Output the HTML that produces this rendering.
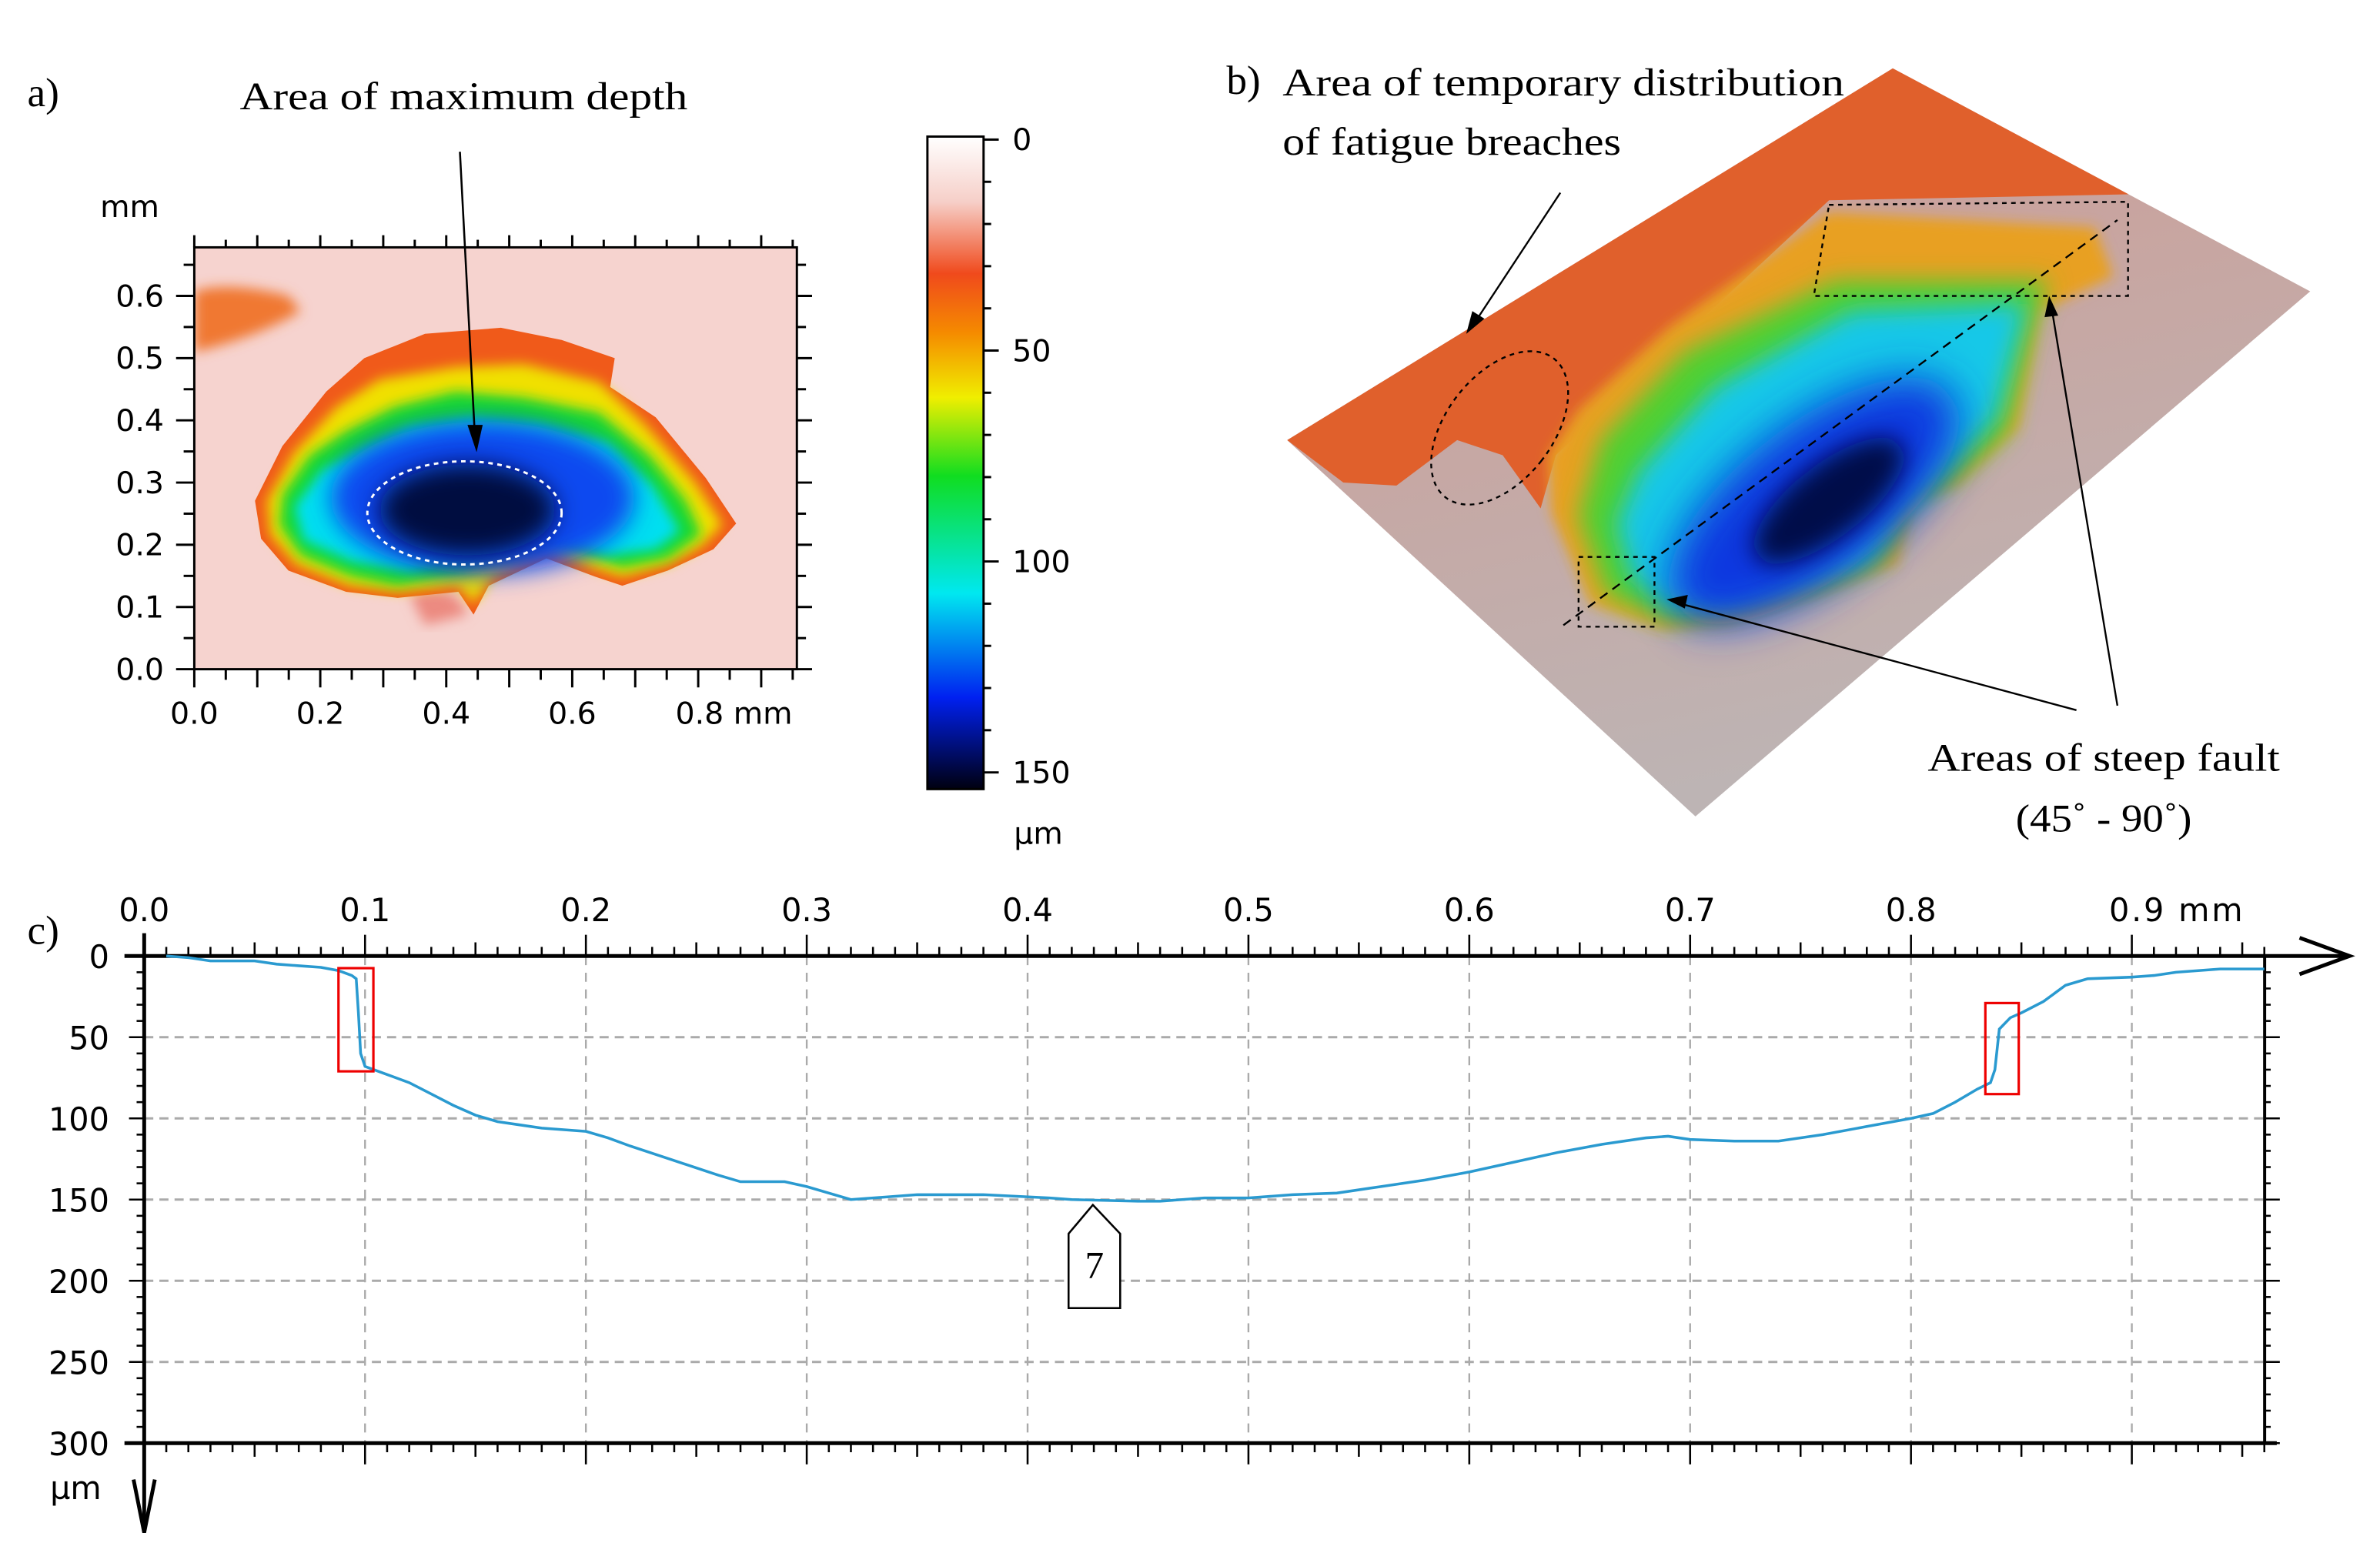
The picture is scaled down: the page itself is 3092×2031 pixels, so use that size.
<!DOCTYPE html>
<html><head><meta charset="utf-8"><style>
html,body{margin:0;padding:0;background:#fff;}
svg{display:block;}
.serif{font-family:"Liberation Serif",serif;}
.sans{font-family:"DejaVu Sans","Liberation Sans",sans-serif;}
</style></head><body>
<svg id="root" width="3092" height="2031" viewBox="0 0 1568 1030" preserveAspectRatio="none" xmlns="http://www.w3.org/2000/svg">
<defs>
<filter id="blur4" x="-20%" y="-20%" width="140%" height="140%"><feGaussianBlur stdDeviation="4"/></filter>
<filter id="blur8" x="-30%" y="-30%" width="160%" height="160%"><feGaussianBlur stdDeviation="8"/></filter>
<filter id="blur14" x="-40%" y="-40%" width="180%" height="180%"><feGaussianBlur stdDeviation="14"/></filter>
<linearGradient id="cbar" x1="0" y1="0" x2="0" y2="1">
<stop offset="0" stop-color="#ffffff"/><stop offset="0.1" stop-color="#f6cfc8"/>
<stop offset="0.21" stop-color="#f04a1c"/><stop offset="0.3" stop-color="#f58a00"/>
<stop offset="0.4" stop-color="#f0ee00"/><stop offset="0.52" stop-color="#10dd20"/>
<stop offset="0.7" stop-color="#00e8f0"/><stop offset="0.86" stop-color="#0020f0"/>
<stop offset="1" stop-color="#000010"/>
</linearGradient>
<linearGradient id="plateg" x1="0" y1="0" x2="0.3" y2="1">
<stop offset="0" stop-color="#d09a92"/><stop offset="1" stop-color="#bdb4b4"/>
</linearGradient>
<clipPath id="mapclip"><rect x="128" y="163" width="397" height="278"/></clipPath>
<clipPath id="plateclip"><polygon points="848,290 1247,45 1522,192 1117,538"/></clipPath>
</defs>

<!-- Panel a -->
<text class="serif" x="18" y="70" font-size="27">a)</text>
<text class="serif" x="158" y="72" font-size="26" textLength="295" lengthAdjust="spacingAndGlyphs">Area of maximum depth</text>
<g clip-path="url(#mapclip)">
<rect x="128" y="163" width="397" height="278" fill="#f6d3cf"/>
<path d="M128,192 Q150,185 190,195 L198,205 Q170,222 128,232 Z" fill="#f07830" filter="url(#blur4)"/>
<path d="M270,392 Q300,382 308,405 L280,412 Z" fill="#ec8a80" filter="url(#blur4)"/>
<path d="M215,258 L240,236 L280,220 L330,216 L370,224 L405,236 L402,255 L432,275 L465,315 L485,345 L470,362 L440,376 L410,386 L392,380 L360,368 L322,386 L312,405 L302,390 L262,394 L228,390 L190,376 L172,355 L168,330 L186,294 Z" fill="#f05a1a"/>
<path d="M222,268 L250,250 L300,242 L345,240 L395,252 L425,280 L458,318 L476,346 L462,360 L440,372 L410,380 L390,374 L360,362 L325,380 L312,398 L302,386 L262,390 L230,386 L195,372 L178,352 L176,330 L194,298 Z" fill="#f0e000" filter="url(#blur4)"/>
<path d="M228,284 L260,268 L300,258 L345,262 L395,272 L428,300 L452,330 L462,352 L440,368 L410,374 L388,366 L355,356 L320,372 L305,378 L262,386 L232,380 L198,366 L184,346 L186,326 L204,300 Z" fill="#12d830" filter="url(#blur4)"/>
<path d="M236,298 L270,282 L310,276 L355,280 L400,292 L430,320 L448,350 L432,362 L400,366 L360,352 L320,362 L270,376 L232,370 L200,356 L194,334 L212,310 Z" fill="#00dff0" filter="url(#blur4)"/>
<ellipse cx="318" cy="328" rx="100" ry="50" fill="#1048f0" filter="url(#blur8)"/>
<ellipse cx="308" cy="336" rx="58" ry="30" fill="#000a40" filter="url(#blur8)"/>
<ellipse cx="306" cy="338" rx="64" ry="34" fill="none" stroke="#fff" stroke-width="1.5" stroke-dasharray="3,3"/>
</g>
<line x1="303" y1="100" x2="313" y2="290" stroke="#000" stroke-width="1.3"/>
<polygon points="308,280 318,280 314,298" fill="#000"/>
<g id="mapaxes"></g>
<text class="sans" x="66" y="143" font-size="20">mm</text>

<!-- colorbar -->
<rect x="611" y="90" width="37" height="430" fill="url(#cbar)" stroke="#000" stroke-width="1.5"/>
<g id="cbticks"></g>
<text class="sans" x="668" y="556" font-size="20">µm</text>

<!-- Panel b -->
<g>
<polygon points="848,290 1247,45 1522,192 1117,538" fill="url(#plateg)"/>
<g clip-path="url(#plateclip)">
<polygon points="848,290 1247,45 1405,128 1205,132 1100,230 1025,300 1015,335 990,300 960,290 920,320 885,318" fill="#e0602c"/>
<polygon points="1040,270 1100,215 1205,140 1380,150 1392,182 1345,205 1330,282 1290,320 1262,330 1250,372 1200,392 1140,412 1095,415 1048,398 1022,338 1020,300" fill="#e8a020" filter="url(#blur4)"/>
<polygon points="1055,290 1110,232 1210,185 1350,185 1340,210 1322,285 1285,318 1255,335 1240,370 1195,388 1140,405 1100,410 1058,392 1040,340" fill="#50d030" filter="url(#blur8)"/>
<polygon points="1080,310 1130,255 1220,205 1335,200 1315,275 1278,312 1250,340 1230,370 1190,385 1140,398 1100,400 1075,380 1065,345" fill="#18c8e8" filter="url(#blur8)"/>
<ellipse cx="1195" cy="330" rx="115" ry="50" transform="rotate(-38 1195 330)" fill="#1038e0" filter="url(#blur14)"/>
<ellipse cx="1205" cy="330" rx="60" ry="24" transform="rotate(-38 1205 330)" fill="#050848" filter="url(#blur8)"/>
</g>
<polygon points="1205,135 1402,133 1402,195 1195,195" fill="none" stroke="#000" stroke-width="1.2" stroke-dasharray="3,3"/>
<rect x="1040" y="367" width="50" height="46" fill="none" stroke="#000" stroke-width="1.2" stroke-dasharray="3,3"/>
<line x1="1030" y1="412" x2="1395" y2="145" stroke="#000" stroke-width="1.2" stroke-dasharray="6,4"/>
<ellipse cx="988" cy="282" rx="35" ry="58" transform="rotate(38 988 282)" fill="none" stroke="#000" stroke-width="1.2" stroke-dasharray="3,3"/>
</g>
<text class="serif" x="808" y="62" font-size="27">b)</text>
<text class="serif" x="845" y="63" font-size="26" textLength="370" lengthAdjust="spacingAndGlyphs">Area of temporary distribution</text>
<text class="serif" x="845" y="102" font-size="26" textLength="223" lengthAdjust="spacingAndGlyphs">of fatigue breaches</text>
<line x1="1028" y1="127" x2="972" y2="212" stroke="#000" stroke-width="1.2"/>
<polygon points="966,220 970,205 978,210" fill="#000"/>
<text class="serif" x="1270" y="508" font-size="26" textLength="232" lengthAdjust="spacingAndGlyphs">Areas of steep fault</text>
<text class="serif" x="1328" y="548" font-size="26" textLength="116" lengthAdjust="spacingAndGlyphs">(45˚ - 90˚)</text>
<line x1="1368" y1="468" x2="1104" y2="397" stroke="#000" stroke-width="1.2"/>
<polygon points="1098,395 1112,392 1110,401" fill="#000"/>
<line x1="1395" y1="465" x2="1352" y2="205" stroke="#000" stroke-width="1.2"/>
<polygon points="1350,195 1347,209 1356,208" fill="#000"/>

<!-- Panel c -->
<text class="serif" x="18" y="622" font-size="27">c)</text>
<g id="profile"></g>
</svg>
<script>
var NS="http://www.w3.org/2000/svg";
function mk(parent,tag,attrs){var e=document.createElementNS(NS,tag);for(var k in attrs)e.setAttribute(k,attrs[k]);parent.appendChild(e);return e;}

// ---- profile data ----
var xTicks=[0.0,0.1,0.2,0.3,0.4,0.5,0.6,0.7,0.8,0.9];
var xTickLabels=["0.0","0.1","0.2","0.3","0.4","0.5","0.6","0.7","0.8","0.9 mm"];
var yTicks=[0,50,100,150,200,250,300];
var yTickLabels=["0","50","100","150","200","250","300"];
var profileX=[0.01,0.02,0.03,0.05,0.06,0.07,0.08,0.088,0.092,0.094,0.096,0.097,0.098,0.1,0.11,0.12,0.13,0.14,0.15,0.16,0.17,0.18,0.2,0.21,0.22,0.24,0.26,0.27,0.29,0.3,0.31,0.32,0.33,0.35,0.38,0.41,0.42,0.45,0.46,0.48,0.5,0.52,0.54,0.56,0.58,0.6,0.62,0.64,0.66,0.68,0.69,0.7,0.72,0.74,0.76,0.78,0.8,0.81,0.82,0.83,0.836,0.838,0.84,0.845,0.85,0.86,0.87,0.88,0.9,0.91,0.92,0.94,0.96];
var profileDepth=[0,1,3,3,5,6,7,9,11,12,14,35,60,68,73,78,85,92,98,102,104,106,108,112,117,126,135,139,139,142,146,150,149,147,147,149,150,151,151,149,149,147,146,142,138,133,127,121,116,112,111,113,114,114,110,105,100,97,90,82,78,70,45,38,35,28,18,14,13,12,10,8,8];
var depthX=[0,0.2,0.4,0.6,0.8];
var mapXLabels=["0.0","0.2","0.4","0.6","0.8 mm"];
var mapYVals=[0,0.1,0.2,0.3,0.4,0.5,0.6];
var mapYLabels=["0.0","0.1","0.2","0.3","0.4","0.5","0.6"];
var cbVals=[0,50,100,150];
var cbLabels=["0","50","100","150"];

function px(v){return 95+v*1455;}
function py(v){return 630+v*1.07;}
var g=document.getElementById('profile');
for(var i=1;i<xTicks.length;i++){
  var l=mk(g,'line',{x1:px(xTicks[i]),y1:630,x2:px(xTicks[i]),y2:951,stroke:'#aaa','stroke-width':1.2,'stroke-dasharray':'6,5'});
  
  
}
for(var i=1;i<yTicks.length-1;i++){
  var l=mk(g,'line',{x1:95,y1:py(yTicks[i]),x2:1492,y2:py(yTicks[i]),stroke:'#aaa','stroke-width':1.5,'stroke-dasharray':'6,4'});
  
  
}
var ax=mk(g,'line',{x1:82,y1:630,x2:1545,y2:630,stroke:'#000','stroke-width':2.5});


mk(g,'polyline',{points:'1515,618 1548,630 1515,642',fill:'none',stroke:'#000','stroke-width':2.5});
var ay=mk(g,'line',{x1:95,y1:615,x2:95,y2:1008,stroke:'#000','stroke-width':2.5});


mk(g,'polyline',{points:'88,975 95,1010 102,975',fill:'none',stroke:'#000','stroke-width':2.5});
mk(g,'line',{x1:82,y1:951,x2:1500,y2:951,stroke:'#000','stroke-width':2.5});
mk(g,'line',{x1:1492,y1:630,x2:1492,y2:951,stroke:'#000','stroke-width':2});
for(var t=0;t<=96;t++){
  var xx=px(t/100),major=(t%10==0),mid=(t%5==0);
  mk(g,'line',{x1:xx,y1:630-(major?14:mid?9:6),x2:xx,y2:630,stroke:'#000','stroke-width':1.3});
  mk(g,'line',{x1:xx,y1:951,x2:xx,y2:951+(major?14:mid?9:6),stroke:'#000','stroke-width':1.3});
}
for(var t=0;t<=300;t+=10){
  var yy=py(t),maj=(t%50==0);
  mk(g,'line',{x1:95-(maj?10:5),y1:yy,x2:95,y2:yy,stroke:'#000','stroke-width':1.3});
  mk(g,'line',{x1:1492,y1:yy,x2:1492+(maj?10:4),y2:yy,stroke:'#000','stroke-width':1.3});
}
for(var i=0;i<xTicks.length;i++){
  var tx=mk(g,'text',{x:px(xTicks[i]),y:607,'font-size':21,'text-anchor':'middle','class':'sans'});
  tx.textContent=xTickLabels[i];
  if(i==9){tx.setAttribute('text-anchor','start');tx.setAttribute('x',px(xTicks[i])-15);tx.setAttribute('textLength','88');}
  
  
}
for(var i=0;i<yTicks.length;i++){
  var ty=mk(g,'text',{x:72,y:py(yTicks[i])+8,'font-size':21,'text-anchor':'end','class':'sans'});
  ty.textContent=yTickLabels[i];
  
  
}
var un=mk(g,'text',{x:33,y:988,'font-size':21,'class':'sans'});un.textContent='µm';


var pts=[];for(var i=0;i<profileX.length;i++)pts.push(px(profileX[i])+','+py(profileDepth[i]));
var pl=mk(g,'polyline',{points:pts.join(' '),fill:'none',stroke:'#2a9ad0','stroke-width':1.8,'stroke-linejoin':'miter'});


var r1=mk(g,'rect',{x:223,y:638,width:23,height:68,fill:'none',stroke:'#e00','stroke-width':1.6});


var r2=mk(g,'rect',{x:1308,y:661,width:22,height:60,fill:'none',stroke:'#e00','stroke-width':1.6});


var m7=mk(g,'polygon',{points:'720,794 738,813 738,862 704,862 704,813',fill:'#fff',stroke:'#000','stroke-width':1.3});


var t7=mk(g,'text',{x:721,y:842,'font-size':25,'text-anchor':'middle','class':'serif'});t7.textContent='7';

var ma=document.getElementById('mapaxes');
function mx(v){return 128+v*415;}
function my(v){return 441-v*410;}
mk(ma,'rect',{x:128,y:163,width:397,height:278,fill:'none',stroke:'#000','stroke-width':1.5});
for(var t=0;t<=19;t++){
  var xx=mx(t*0.05);if(xx>526)break;var mj=(t%2==0);
  mk(ma,'line',{x1:xx,y1:441,x2:xx,y2:441+(mj?12:7),stroke:'#000','stroke-width':1.5});
  mk(ma,'line',{x1:xx,y1:163,x2:xx,y2:163-(mj?8:5),stroke:'#000','stroke-width':1.5});
}
for(var t=0;t<=13;t++){
  var yy=my(t*0.05);var mj=(t%2==0);
  mk(ma,'line',{x1:128-(mj?12:7),y1:yy,x2:128,y2:yy,stroke:'#000','stroke-width':1.5});
  mk(ma,'line',{x1:525,y1:yy,x2:525+(mj?10:6),y2:yy,stroke:'#000','stroke-width':1.5});
}
for(var i=0;i<depthX.length;i++){
  var tx=mk(ma,'text',{x:mx(depthX[i]),y:477,'font-size':20,'text-anchor':i==4?'start':'middle','class':'sans'});
  if(i==4)tx.setAttribute('x',mx(depthX[i])-15);
  tx.textContent=mapXLabels[i];
  
  
}
for(var i=0;i<mapYVals.length;i++){
  var ty=mk(ma,'text',{x:108,y:my(mapYVals[i])+7,'font-size':20,'text-anchor':'end','class':'sans'});
  ty.textContent=mapYLabels[i];
  
  
}
var cb=document.getElementById('cbticks');
function cy(v){return 92+v*(417/150);}
for(var t=0;t<=150;t+=10){var mj=(t%50==0);
  mk(cb,'line',{x1:648,y1:cy(t),x2:648+(mj?10:5),y2:cy(t),stroke:'#000','stroke-width':1.5});}
for(var i=0;i<cbVals.length;i++){
  var tc=mk(cb,'text',{x:667,y:cy(cbVals[i])+7,'font-size':20,'class':'sans'});
  tc.textContent=cbLabels[i];
  
  
}
</script>
</body></html>
